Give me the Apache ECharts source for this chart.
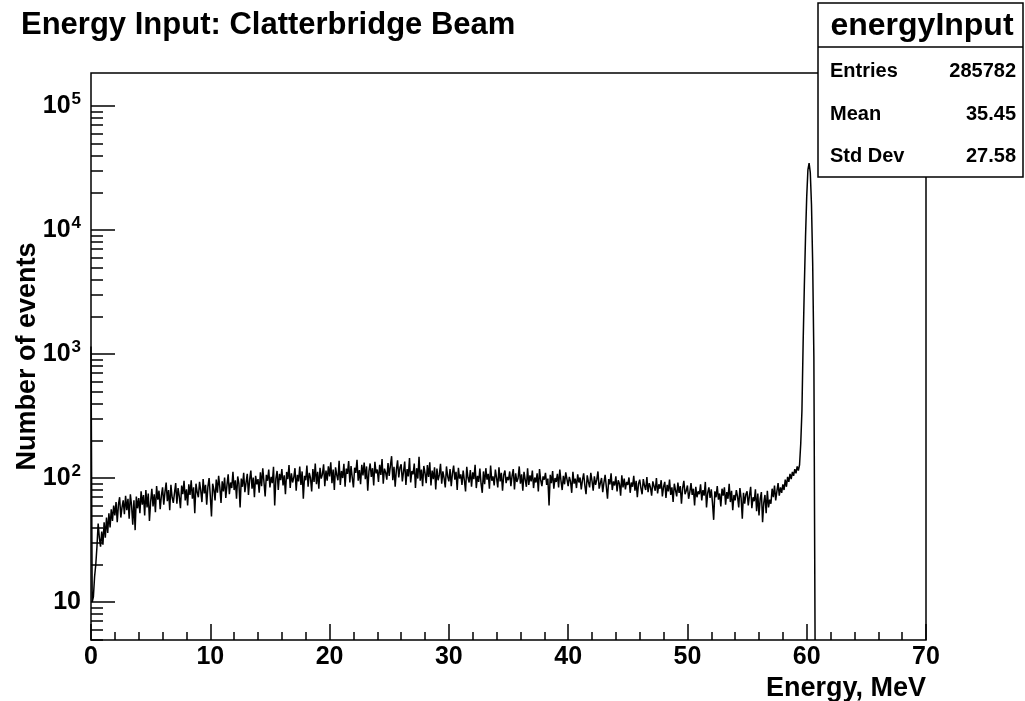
<!DOCTYPE html>
<html><head><meta charset="utf-8">
<script src="https://cdn.jsdelivr.net/npm/echarts@6/dist/echarts.min.js"></script>
<style>html,body{margin:0;padding:0;background:#fff}#c{width:1025px;height:701px}</style>
</head><body><div id="c"></div>
<script>
// ---------- data ----------
const chartTitle = 'Energy Input: Clatterbridge Beam';
const xTitle = 'Energy, MeV';
const yTitle = 'Number of events';
const histName = 'energyInput';
const statLabels = ['Entries', 'Mean', 'Std Dev'];
const statValues = ['285782', '35.45', '27.58'];
const xMin = 0, xMax = 70, xInterval = 10, binWidth = 0.1;
const yMin = 4.94, yMax = 184600;
const yMajorExponents = [1, 2, 3, 4, 5];
const yMinorMultipliers = [2, 3, 4, 5, 6, 7, 8, 9];
// bin contents, 0.1 MeV bins starting at 0 MeV (bins above 60.7 MeV are empty)
const counts = [
  1150, 10, 11, 16, 20, 28, 43, 33, 28, 37,
  29, 44, 33, 48, 36, 52, 40, 56, 45, 60,
  50, 64, 44, 61, 70, 48, 58, 66, 51, 72,
  55, 68, 47, 74, 60, 42, 66, 38, 71, 57,
  69, 52, 78, 61, 73, 50, 80, 58, 75, 45,
  64, 82, 59, 74, 53, 86, 67, 79, 56, 72,
  84, 61, 77, 92, 65, 80, 55, 88, 70, 63,
  76, 91, 62, 83, 71, 57, 87, 74, 95, 66,
  81, 60, 89, 73, 96, 68, 84, 52, 90, 77,
  70, 93, 79, 64, 98, 75, 88, 61, 85, 100,
  72, 49, 90, 81, 66, 97, 76, 104, 84, 63,
  94, 78, 101, 69, 88, 107, 74, 92, 83, 112,
  80, 96, 68, 103, 90, 58, 99, 85, 110, 77,
  92, 108, 73, 97, 115, 82, 101, 70, 104, 89,
  98, 76, 111, 86, 120, 93, 71, 106, 95, 117,
  84, 102, 91, 123, 60, 99, 114, 80, 108, 96,
  118, 87, 105, 74, 112, 98, 127, 83, 109, 92,
  101, 120, 79, 106, 94, 124, 88, 113, 68, 104,
  96, 126, 85, 110, 100, 78, 118, 93, 131, 89,
  112, 82, 121, 99, 107, 129, 86, 115, 95, 124,
  103, 134, 91, 117, 80, 122, 106, 96, 138, 88,
  114, 100, 130, 85, 119, 108, 137, 92, 125, 101,
  84, 121, 110, 140, 95, 116, 89, 128, 105, 133,
  98, 124, 79, 113, 131, 102, 120, 87, 135, 109,
  117, 93, 128, 106, 142, 90, 119, 111, 97, 132,
  104, 126, 150, 96, 123, 85, 116, 139, 101, 121,
  129, 94, 112, 136, 88, 118, 103, 145, 92, 114,
  107, 131, 83, 120, 99, 148, 95, 117, 86, 125,
  110, 91, 127, 102, 134, 87, 115, 98, 122, 81,
  119, 96, 106, 130, 90, 113, 100, 84, 124, 103,
  94, 118, 86, 109, 126, 97, 112, 80, 121, 99,
  107, 88, 115, 96, 78, 123, 101, 92, 116, 85,
  111, 98, 128, 83, 104, 93, 119, 90, 76, 113,
  89, 120, 97, 108, 82, 126, 95, 103, 87, 117,
  100, 84, 122, 94, 110, 79, 106, 115, 91, 102,
  96, 113, 86, 104, 118, 81, 109, 93, 99, 124,
  90, 107, 79, 112, 97, 85, 120, 88, 105, 94,
  115, 83, 101, 92, 109, 78, 118, 96, 86, 103,
  97, 110, 88, 99, 60, 106, 91, 114, 82, 100,
  93, 108, 84, 117, 95, 80, 104, 89, 111, 98,
  86, 102, 94, 76, 112, 90, 99, 83, 107, 92,
  101, 81, 96, 109, 87, 74, 105, 93, 84, 110,
  95, 79, 103, 88, 97, 113, 82, 91, 100, 77,
  92, 106, 85, 68, 98, 89, 109, 80, 94, 87,
  103, 78, 96, 90, 72, 105, 84, 99, 81, 93,
  88, 101, 76, 92, 85, 104, 79, 95, 70, 90,
  97, 83, 74, 98, 87, 80, 102, 77, 91, 84,
  72, 94, 86, 79, 100, 75, 89, 82, 96, 71,
  85, 93, 69, 88, 78, 97, 73, 84, 64, 90,
  80, 71, 92, 76, 86, 62, 83, 95, 74, 79,
  87, 68, 77, 91, 73, 82, 60, 85, 70, 78,
  74, 89, 66, 80, 72, 93, 58, 76, 84, 69,
  81, 63, 46, 78, 70, 86, 67, 75, 59, 82,
  72, 84, 61, 77, 68, 90, 64, 79, 55, 73,
  66, 80, 71, 58, 83, 69, 47, 76, 62, 74,
  78, 60, 72, 85, 57, 70, 65, 81, 54, 75,
  50, 68, 77, 44, 63, 73, 52, 79, 58, 67,
  62, 82, 70, 87, 66, 78, 91, 72, 84, 76,
  89, 80, 97, 85, 102, 93, 108, 98, 112, 104,
  118, 109, 124, 115, 128, 190, 350, 1230, 3500, 8800,
  18500, 30500, 34600, 29000, 16000, 5400, 950
];

// ---------- build ----------
const FONT = '"Liberation Sans", Arial, Helvetica, sans-serif';
const L = Math.log10;
const points = counts.map((c, i) => [+(xMin + i * binWidth).toFixed(3), c > 0 ? c : yMin]);
points.push([+(xMin + counts.length * binWidth).toFixed(3), yMin]);

const minorVals = [];
for (let e = 0; e <= 5; e++) {
  yMinorMultipliers.forEach(m => {
    const v = m * Math.pow(10, e);
    if (v > yMin && v < yMax) minorVals.push(L(v));
  });
}

const grid = { left: 91, top: 73, width: 835, height: 567 };
const chart = echarts.init(document.getElementById('c'), null, { renderer: 'canvas' });

const statChildren = [
  { type: 'rect', shape: { x: 818, y: 3, width: 205, height: 174 },
    style: { fill: '#fff', stroke: '#000', lineWidth: 1.5 } },
  { type: 'line', shape: { x1: 818, y1: 47, x2: 1023, y2: 47 },
    style: { stroke: '#000', lineWidth: 1.5 } },
  { type: 'text', x: 922, y: 26,
    style: { text: histName, fontFamily: FONT, fontWeight: 'bold', fontSize: 32,
             fill: '#000', align: 'center', verticalAlign: 'middle' } }
];
const rowY = [71, 114, 156];
statLabels.forEach((lab, i) => {
  statChildren.push({ type: 'text', x: 830, y: rowY[i],
    style: { text: lab, fontFamily: FONT, fontWeight: 'bold', fontSize: 20, fill: '#000',
             align: 'left', verticalAlign: 'middle' } });
  statChildren.push({ type: 'text', x: 1016, y: rowY[i],
    style: { text: statValues[i], fontFamily: FONT, fontWeight: 'bold', fontSize: 20, fill: '#000',
             align: 'right', verticalAlign: 'middle' } });
});

const option = {
  animation: false,
  backgroundColor: '#fff',
  title: {
    text: chartTitle, left: 16, top: 5,
    textStyle: { fontFamily: FONT, fontWeight: 'bold', fontSize: 31, color: '#000' }
  },
  grid: Object.assign({ show: true, borderColor: '#000', borderWidth: 1.5,
                        containLabel: false, outerBoundsMode: 'none' }, grid),
  xAxis: {
    type: 'value', min: xMin, max: xMax, interval: xInterval,
    name: xTitle, nameLocation: 'end', nameGap: 0, nameMoveOverlap: false,
    nameTextStyle: { fontFamily: FONT, fontWeight: 'bold', fontSize: 27, color: '#000',
                     align: 'right', verticalAlign: 'top', padding: [35, 0, 0, 0] },
    axisLine: { show: false },
    axisTick: { show: true, inside: true, length: 16, lineStyle: { color: '#000', width: 1.5 } },
    minorTick: { show: true, splitNumber: 5, length: 8, lineStyle: { color: '#000', width: 1.5 } },
    axisLabel: { fontFamily: FONT, fontWeight: 'bold', fontSize: 25, color: '#000', margin: 5 },
    splitLine: { show: false }
  },
  yAxis: [
    { type: 'log', logBase: 10, min: yMin, max: yMax, show: false, splitLine: { show: false } },
    {
      type: 'value', min: L(yMin), max: L(yMax), position: 'left',
      name: yTitle, nameLocation: 'middle', nameGap: 50, nameRotate: 90, nameMoveOverlap: false,
      nameTextStyle: { fontFamily: FONT, fontWeight: 'bold', fontSize: 27, color: '#000' },
      axisLine: { show: false },
      axisTick: { show: true, inside: true, length: 24, customValues: yMajorExponents,
                  lineStyle: { color: '#000', width: 1.5 } },
      axisLabel: {
        customValues: yMajorExponents, margin: 10,
        formatter: v => (Math.round(v) === 1 ? '{b|10}' : '{b|10}{s|' + Math.round(v) + '}'),
        rich: {
          b: { fontFamily: FONT, fontWeight: 'bold', fontSize: 25, color: '#000' },
          s: { fontFamily: FONT, fontWeight: 'bold', fontSize: 17, color: '#000',
               verticalAlign: 'top', padding: [0, 0, 14, 1] }
        }
      },
      splitLine: { show: false }
    },
    {
      type: 'value', min: L(yMin), max: L(yMax), position: 'left',
      axisLine: { show: false },
      axisTick: { show: true, inside: true, length: 12, customValues: minorVals,
                  lineStyle: { color: '#000', width: 1.5 } },
      axisLabel: { show: false },
      splitLine: { show: false }
    }
  ],
  graphic: [{ type: 'group', z: 100, children: statChildren }],
  series: [{
    type: 'line', xAxisIndex: 0, yAxisIndex: 0, data: points, step: 'end',
    showSymbol: false, symbol: 'none', silent: true, clip: true,
    lineStyle: { color: '#000', width: 1.5 }
  }]
};
chart.setOption(option);
</script></body></html>
